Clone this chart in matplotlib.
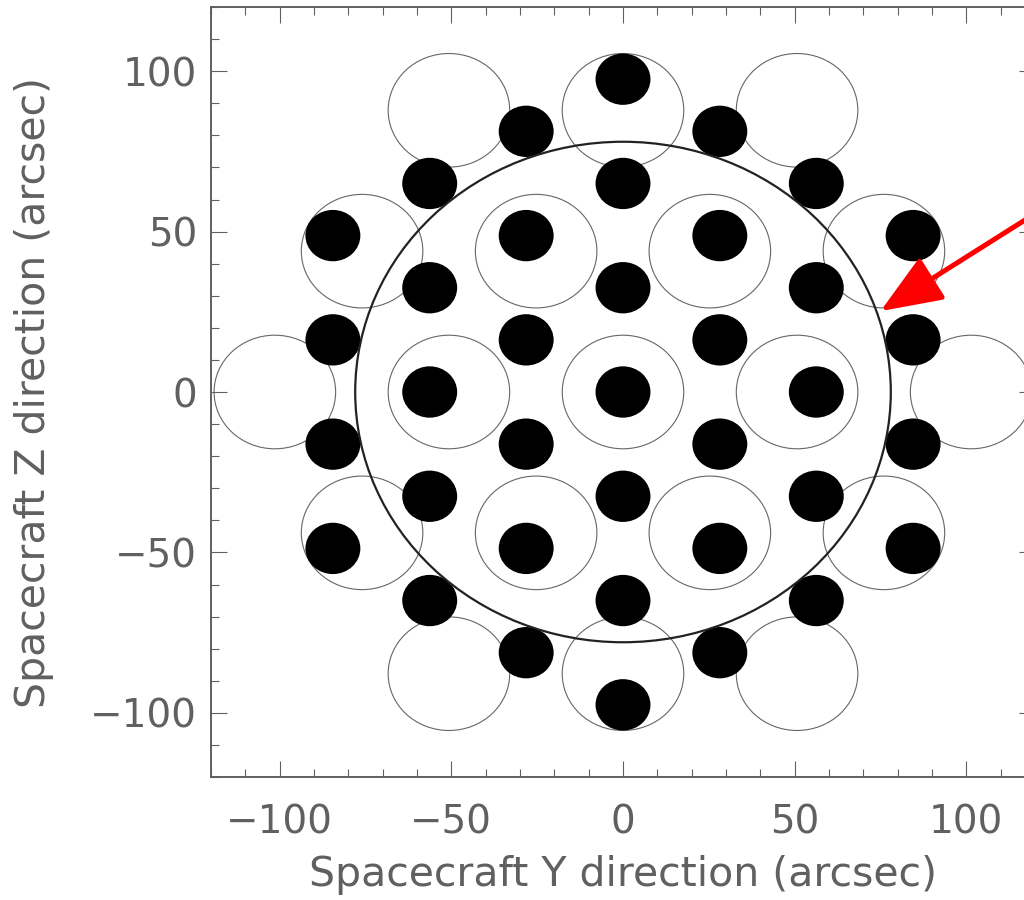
import matplotlib
matplotlib.use("Agg")
import matplotlib.pyplot as plt
from matplotlib.patches import Circle

# Posiciones de los puntos negros (arcsec)
dot_y = [97.5, 65.0, 32.5, 0.0, -32.5, -65.0, -97.5,
         81.25, 48.75, 16.25, -16.25, -48.75, -81.25,
         81.25, 48.75, 16.25, -16.25, -48.75, -81.25,
         65.0, 32.5, 0.0, -32.5, -65.0,
         65.0, 32.5, 0.0, -32.5, -65.0,
         48.75, 16.25, -16.25, -48.75,
         48.75, 16.25, -16.25, -48.75]
dot_x = [0.0] * 7 + [-28.2] * 6 + [28.2] * 6 + [-56.3] * 5 + [56.3] * 5 + [-84.5] * 4 + [84.5] * 4
dot_r = 8.0

# Posiciones de los circulos abiertos
ring_x = [-50.7, 0.0, 50.7,
          -76.0, -25.3, 25.3, 76.0,
          -101.4, -50.7, 0.0, 50.7, 101.4,
          -76.0, -25.3, 25.3, 76.0,
          -50.7, 0.0, 50.7]
ring_y = [87.8] * 3 + [43.9] * 4 + [0.0] * 5 + [-43.9] * 4 + [-87.8] * 3
ring_r = 17.7

# Circulo grande
big_r = 78.0

# Flecha
arrow_tip = (75.0, 25.2)
arrow_tail = (135.0, 65.7)

text_color = '#606060'
plt.rcParams['font.family'] = ['DejaVu Sans']

fig = plt.figure(figsize=(10.24, 9.0), dpi=100)
ax = fig.add_axes([211 / 1024, 123 / 900, 824 / 1024, 770 / 900])

for x, y in zip(ring_x, ring_y):
    ax.add_patch(Circle((x, y), ring_r, fill=False, edgecolor='#666666', linewidth=0.8, zorder=2))

for x, y in zip(dot_x, dot_y):
    ax.add_patch(Circle((x, y), dot_r, facecolor='black', edgecolor='none', zorder=3))

ax.add_patch(Circle((0, 0), big_r, fill=False, edgecolor='#222222', linewidth=1.6, zorder=4))

ax.annotate('', xy=arrow_tip, xytext=arrow_tail, annotation_clip=False,
            arrowprops=dict(arrowstyle='-|>,head_length=1.0,head_width=0.4',
                            mutation_scale=38, color='red', lw=3.6,
                            shrinkA=0, shrinkB=0), zorder=5)

ax.set_xlim(-120, 120)
ax.set_ylim(-120, 120)
ax.set_xticks([-100, -50, 0, 50, 100])
ax.set_yticks([-100, -50, 0, 50, 100])
ax.set_xticks(range(-120, 121, 10), minor=True)
ax.set_yticks(range(-120, 121, 10), minor=True)

ax.tick_params(which='both', direction='in', top=True, right=True, color=text_color,
               width=0.8, labelcolor=text_color, labelsize=28)
ax.tick_params(which='major', length=11.5)
ax.tick_params(which='minor', length=6)
ax.tick_params(axis='x', which='major', pad=19)
ax.tick_params(axis='y', which='major', pad=10)

for s in ax.spines.values():
    s.set_color(text_color)
    s.set_linewidth(1.4)

ax.set_xlabel('Spacecraft Y direction (arcsec)', fontsize=29.5, color=text_color, labelpad=10)
ax.set_ylabel('Spacecraft Z direction (arcsec)', fontsize=29.5, color=text_color, labelpad=26)

fig.savefig('out.png', dpi=100)
